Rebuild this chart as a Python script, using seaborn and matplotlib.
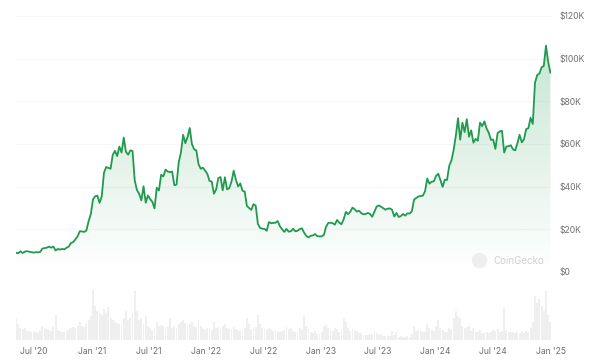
import numpy as np
import pandas as pd
import matplotlib
matplotlib.use('Agg')
from matplotlib import pyplot as plt
import matplotlib.dates as mdates
from matplotlib.colors import to_rgb
from matplotlib.ticker import FuncFormatter
import seaborn as sns

sns.set_style('white')
plt.rcParams['font.family'] = ['Inter', 'DejaVu Sans']

# weekly BTC price (K USD), first week 2020-05-05
price_2020 = [9.0, 8.8, 9.7, 8.9, 9.5, 9.8, 9.5, 9.3, 9.1, 9.3, 9.2, 9.4, 11.0, 11.2, 11.4, 11.9, 11.4, 11.9,
              10.1, 10.8, 10.5, 10.8, 10.6, 11.4, 11.9, 13.6, 14.0, 15.3, 16.7, 19.1, 19.0, 18.8, 19.4, 23.8, 27.0]
price_2021 = [34.0, 35.5, 35.8, 32.4, 35.5, 46.5, 49.2, 48.8, 48.4, 54.9, 56.8, 54.3, 58.8, 56.0, 63.0, 56.3,
              55.0, 57.0, 56.7, 42.9, 38.4, 36.7, 33.6, 40.2, 32.5, 35.9, 34.2, 32.9, 29.8, 39.5, 38.2, 45.6,
              44.8, 48.0, 47.1, 46.8, 47.1, 40.7, 41.0, 51.5, 56.0, 64.3, 60.4, 63.2, 67.5, 60.0, 57.5, 57.0,
              50.6, 48.4, 48.9, 47.5]
price_2022 = [46.0, 42.7, 42.4, 36.7, 38.7, 44.0, 44.5, 38.3, 44.4, 38.7, 39.3, 42.4, 47.5, 43.2, 40.1, 41.5,
              38.1, 37.7, 31.0, 30.0, 29.1, 31.8, 31.1, 22.5, 20.7, 20.3, 20.2, 19.3, 23.4, 22.9, 23.0, 23.1,
              23.9, 21.5, 20.0, 18.8, 20.2, 18.9, 19.1, 20.3, 19.1, 19.3, 20.1, 20.5, 18.5, 16.9, 16.2, 17.0,
              17.1, 17.8, 16.8, 16.7]
price_2023 = [16.7, 17.4, 21.2, 23.0, 23.1, 22.9, 22.2, 24.4, 23.1, 22.4, 24.7, 28.2, 27.1, 28.2, 30.2, 29.4,
              28.3, 28.7, 27.6, 27.0, 27.2, 27.7, 27.2, 25.9, 28.3, 30.7, 31.2, 30.6, 29.9, 29.2, 29.7, 29.8,
              29.2, 26.0, 27.7, 25.8, 26.2, 27.2, 26.4, 27.5, 27.4, 28.4, 33.9, 34.7, 35.4, 35.6, 35.8, 37.8,
              43.8, 41.4, 42.3, 42.5]
price_2024 = [45.0, 46.1, 43.1, 39.9, 43.3, 43.1, 49.7, 52.3, 57.1, 63.8, 72.1, 62.0, 70.0, 65.6, 71.6, 63.4,
              66.4, 60.6, 62.4, 61.5, 70.0, 68.4, 70.6, 67.3, 65.2, 61.9, 62.1, 57.7, 65.1, 65.9, 66.2, 56.0,
              58.8, 59.0, 59.4, 57.5, 57.0, 60.3, 64.3, 60.8, 62.2, 67.0, 67.4, 72.3, 69.4, 88.7, 92.3, 93.0,
              95.9, 96.6, 106.1, 98.6, 93.4]

# relative weekly volume
vol_2020 = [22, 16, 12, 11, 12, 9, 9, 8, 8, 8, 7, 9, 14, 12, 11, 10, 9, 13, 25, 10, 9, 8, 8, 9, 11, 12, 13,
            12, 14, 18, 14, 13, 16, 20, 24]
vol_2021 = [52, 35, 30, 28, 25, 32, 28, 34, 22, 20, 18, 17, 16, 15, 22, 30, 20, 22, 28, 50, 30, 20, 22, 16,
            24, 14, 12, 10, 12, 18, 14, 15, 14, 13, 14, 22, 12, 14, 12, 16, 18, 20, 17, 15, 16, 18, 14, 13,
            20, 14, 11, 10]
vol_2022 = [12, 11, 10, 18, 12, 13, 11, 14, 16, 12, 11, 10, 13, 11, 10, 9, 10, 12, 22, 16, 11, 12, 13, 25,
            16, 12, 11, 10, 12, 11, 9, 10, 9, 8, 9, 10, 14, 11, 12, 9, 8, 7, 12, 10, 24, 14, 11, 8, 7, 9, 6, 6]
vol_2023 = [8, 14, 15, 12, 10, 9, 12, 11, 8, 10, 22, 18, 12, 9, 11, 10, 9, 7, 7, 5, 5, 5, 6, 6, 9, 7, 5, 6,
            4, 4, 4, 4, 9, 5, 8, 3, 4, 3, 3, 4, 3, 6, 14, 9, 10, 9, 8, 8, 16, 12, 10, 9]
vol_2024 = [14, 20, 12, 10, 8, 8, 12, 11, 22, 30, 24, 22, 14, 12, 13, 14, 9, 12, 8, 8, 10, 7, 7, 8, 7, 8,
            10, 9, 11, 8, 9, 33, 10, 8, 8, 8, 7, 8, 7, 9, 7, 9, 8, 12, 18, 45, 38, 42, 35, 30, 50, 25, 18]

price = np.array(price_2020 + price_2021 + price_2022 + price_2023 + price_2024) * 1000
volume = np.array(vol_2020 + vol_2021 + vol_2022 + vol_2023 + vol_2024)
dates = pd.date_range('2020-05-05', periods=len(price), freq='7D')
df = pd.DataFrame({'date': dates, 'price': price, 'volume': volume})

green = '#1f9a4f'
xmin, xmax = pd.Timestamp('2020-05-05'), pd.Timestamp('2025-01-02')

fig = plt.figure(figsize=(6, 3.62), dpi=100)
ax = fig.add_axes([16 / 600, 1 - 272 / 362, 535 / 600, 256 / 362])
vax = fig.add_axes([16 / 600, 1 - 340 / 362, 535 / 600, 55 / 362])

# gradient fill under the line
ymax = df['price'].max()
grad = np.zeros((256, 1, 4))
grad[..., :3] = to_rgb(green)
grad[..., 3] = np.linspace(0, 0.25, 256).reshape(-1, 1)
x0, x1 = mdates.date2num(df['date'].iloc[0]), mdates.date2num(df['date'].iloc[-1])
im = ax.imshow(grad, extent=[x0, x1, 0, ymax], origin='lower', aspect='auto', zorder=1)
poly = ax.fill_between(df['date'], df['price'], 0, color='none', lw=0)
im.set_clip_path(poly.get_paths()[0], transform=ax.transData)

sns.lineplot(data=df, x='date', y='price', ax=ax, color=green, lw=1.3, zorder=3)

ax.set_xlim(xmin, xmax)
ax.set_ylim(0, 120000)
ax.set_aspect('auto')
ax.yaxis.tick_right()
ax.set_yticks(range(0, 120001, 20000))
ax.yaxis.set_major_formatter(FuncFormatter(lambda v, p: '$0' if v == 0 else f'${int(v / 1000)}K'))
ax.tick_params(axis='y', length=0, pad=6.5, labelsize=6.2, labelcolor='#6f6f6f')
ax.set_xticks([])
ax.set_xlabel('')
ax.set_ylabel('')
ax.grid(axis='y', color='#f6f6f6', lw=0.8, zorder=2)
for s in ax.spines.values():
    s.set_visible(False)

# watermark
ax.plot([0.866], [0.045], 'o', ms=10, color='#eeeeee', transform=ax.transAxes, zorder=2)
ax.text(0.893, 0.043, 'CoinGecko', transform=ax.transAxes, fontsize=7, color='#cfcfcf',
        va='center', ha='left', zorder=2)

# volume panel
vax.bar(df['date'], df['volume'], width=6, color='#efefef', lw=0)
vax.set_xlim(xmin, xmax)
vax.set_ylim(0, 56)
vax.set_yticks([])
vax.xaxis.set_major_locator(mdates.MonthLocator(bymonth=[1, 7]))
vax.xaxis.set_major_formatter(mdates.DateFormatter("%b '%y"))
vax.tick_params(axis='x', length=0, pad=5, labelsize=6.2, labelcolor='#6f6f6f')
for s in vax.spines.values():
    s.set_visible(False)

fig.savefig('out.png', dpi=100)
